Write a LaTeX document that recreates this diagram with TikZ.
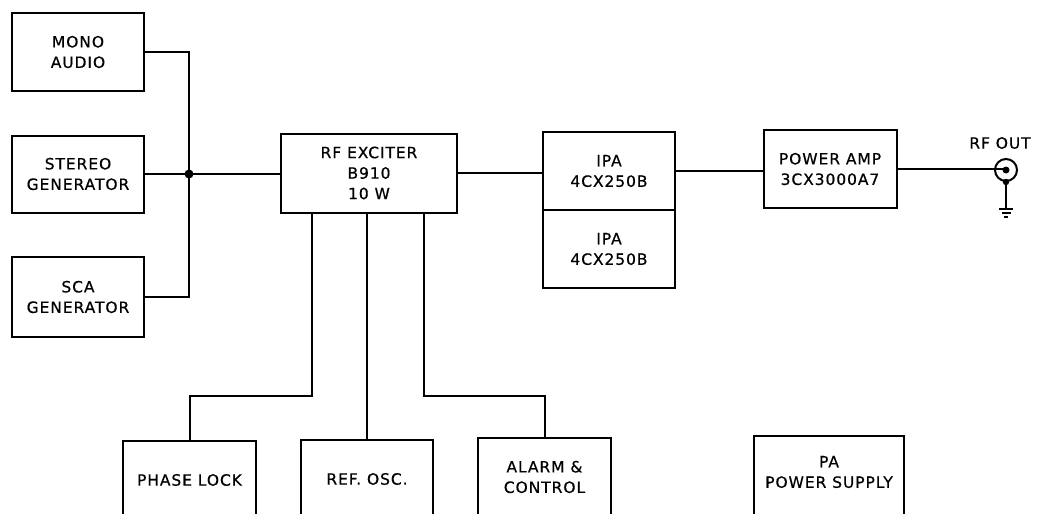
\documentclass[tikz,border=0pt]{standalone}
\usepackage{fontspec}
\setmainfont{DejaVu Sans}[LetterSpace=6.0,FakeBold=0.6]
\begin{document}
\begin{tikzpicture}[x=1pt,y=-1pt,line width=2pt,
  blk/.style={draw,inner sep=0pt,align=center,font=\fontsize{15.5}{20.5}\selectfont},
  txt/.style={inner sep=0pt,align=center,font=\fontsize{15.5}{20.5}\selectfont},
  wire/.style={line width=2pt},
  dotj/.style={circle,fill,inner sep=0pt,minimum size=9pt}]
\path[use as bounding box,clip] (0,0) rectangle (1037,514);
\fill[white] (0,0) rectangle (1037,514);
% left inputs
\node[blk,minimum width=132,minimum height=78] (mono) at (78,52) {MONO\\AUDIO};
\node[blk,minimum width=132,minimum height=77] (stereo) at (78,174) {STEREO\\GENERATOR};
\node[blk,minimum width=132,minimum height=80] (sca) at (78,297) {SCA\\GENERATOR};
\node[dotj] (j) at (189,174) {};
% main chain
\node[blk,minimum width=176,minimum height=79] (exc) at (369,173) {RF EXCITER\\B910\\10 W};
\node[blk,minimum width=132,minimum height=78] (ipa1) at (609,171) {IPA\\4CX250B};
\node[blk,minimum width=132,minimum height=78] (ipa2) at (609,249) {IPA\\4CX250B};
\node[blk,minimum width=133,minimum height=78] (amp) at (830,169) {POWER AMP\\3CX3000A7};
% RF out connector
\node[draw,circle,inner sep=0pt,minimum size=22pt] (rf) at (1006,170) {};
\node[txt] (rflab) at (1000,143) {RF OUT};
\fill (rf.center) circle (3.5);
\fill (rf.south) circle (3.2);
\coordinate (gnd) at (1006,209);
% bottom boxes
\node[draw,inner sep=0pt,minimum width=133,minimum height=100,anchor=north] (phase) at (189.5,440) {};
\node[txt] (phaset) at (189.5,480) {PHASE LOCK};
\node[draw,inner sep=0pt,minimum width=132,minimum height=100,anchor=north] (ref) at (367,439) {};
\node[txt] (reft) at (367,479) {REF. OSC.};
\node[draw,inner sep=0pt,minimum width=133,minimum height=100,anchor=north] (alarm) at (544.5,437) {};
\node[txt] (alarmt) at (544.5,477) {ALARM \&\\CONTROL};
\node[draw,inner sep=0pt,minimum width=150,minimum height=100,anchor=north] (pa) at (829,435) {};
\node[txt] (pat) at (829,472) {PA\\POWER SUPPLY};
% connectors
\draw[wire] (mono.east) -| (j.center) |- (sca.east);
\draw[wire] (stereo.east) -- (j.center) -- (exc.west |- j.center);
\draw[wire] (exc.east) -- (exc.east -| ipa1.west);
\draw[wire] (ipa1.east) -- (ipa1.east -| amp.west);
\draw[wire] (amp.east) -- (amp.east -| rf.center);
\draw[wire] ([xshift=-57]exc.south) -- ++(0,182) -| (phase.north);
\draw[wire] (exc.south -| ref.north) -- (ref.north);
\draw[wire] ([xshift=55]exc.south) -- ++(0,182) -| (alarm.north);
\draw[line width=1.4pt] (rf.south) -- (gnd);
\draw[line width=1.4pt] ([xshift=-7]gnd) -- ([xshift=7]gnd)
  ([shift={(-4.5,4)}]gnd) -- ([shift={(4.5,4)}]gnd)
  ([shift={(-2,8)}]gnd) -- ([shift={(2,8)}]gnd);
\end{tikzpicture}
\end{document}
